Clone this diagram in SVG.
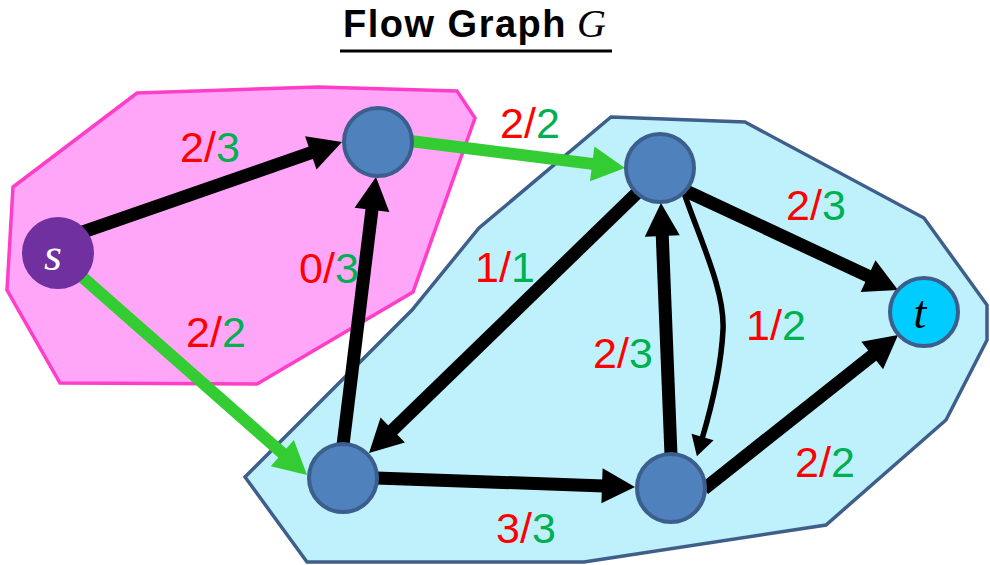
<svg xmlns="http://www.w3.org/2000/svg" width="990" height="565" viewBox="0 0 990 565">
<defs>
<style>
.edge{stroke:#000;stroke-width:13;fill:none}
.green{stroke:#33CC33;stroke-width:12;fill:none}
.thin{stroke:#000;stroke-width:5.5;fill:none}
.node{fill:#4F81BD;stroke:#3B5E8C;stroke-width:4}
.lbl{font-family:"Liberation Sans",Arial,sans-serif;font-size:43px;text-anchor:middle}
.r{fill:#FF0000}
.g{fill:#00B050}
</style>
<marker id="ah" markerUnits="userSpaceOnUse" markerWidth="40" markerHeight="40" viewBox="0 -20 36 40" refX="2" refY="0" orient="auto">
<path d="M0,-17.5 L33,0 L0,17.5 Z" fill="#000"/>
</marker>
<marker id="ahg" markerUnits="userSpaceOnUse" markerWidth="40" markerHeight="40" viewBox="0 -20 36 40" refX="2" refY="0" orient="auto">
<path d="M0,-17.5 L33,0 L0,17.5 Z" fill="#33CC33"/>
</marker>
<marker id="ahs" markerUnits="userSpaceOnUse" markerWidth="26" markerHeight="26" viewBox="0 -13 24 26" refX="2" refY="0" orient="auto">
<path d="M0,-11.5 L20,0 L0,11.5 Z" fill="#000"/>
</marker>
</defs>

<g id="title">
<text x="343" y="37" font-family="'Liberation Sans',Arial,sans-serif" font-weight="bold" font-size="38" letter-spacing="1.5" fill="#000">Flow Graph</text>
<text x="577" y="37" font-family="'Liberation Serif','Times New Roman',serif" font-style="italic" font-size="40" fill="#000">G</text>
<line x1="340" y1="51" x2="612" y2="51" stroke="#000" stroke-width="3"/>
</g>

<g id="regions">
<polygon id="regionS" points="137,93 318,87 457,91 475,118 413,292 257,384 60,383 7,290 13,187" fill="#FFA6F8" stroke="#FF3EC8" stroke-width="3.5"/>
<polygon id="regionT" points="611,117 745,122 924,218 987,305 987,340 946,420 826,525 584,562 307,562 245,477 412,310 479,228" fill="#BFF1FC" stroke="#3F5F8A" stroke-width="3.5"/>
</g>

<g id="connectors">
<line class="edge" x1="80" y1="233" x2="312.7" y2="152.2" marker-end="url(#ah)"/>
<line class="green" x1="80" y1="275" x2="283.8" y2="454.5" marker-end="url(#ahg)"/>
<line class="green" x1="410" y1="141" x2="594.2" y2="164.1" marker-end="url(#ahg)"/>
<line class="edge" x1="343" y1="445" x2="372.2" y2="207.8" marker-end="url(#ah)"/>
<line class="edge" x1="638" y1="192" x2="391.3" y2="431.4" marker-end="url(#ah)"/>
<line class="edge" x1="376" y1="478" x2="604" y2="485.9" marker-end="url(#ah)"/>
<line class="edge" x1="671" y1="455" x2="662.2" y2="234" marker-end="url(#ah)"/>
<line class="edge" x1="686" y1="191" x2="869.9" y2="276.9" marker-end="url(#ah)"/>
<line class="edge" x1="704" y1="489" x2="873.8" y2="354.3" marker-end="url(#ah)"/>
<path class="thin" d="M683,190 C700,240 725,290 723,330 C721,370 710,412 702,439" marker-end="url(#ahs)"/>
</g>

<g id="labels">
<text class="lbl" x="210" y="162"><tspan class="r">2/</tspan><tspan class="g">3</tspan></text>
<text class="lbl" x="329" y="283"><tspan class="r">0/</tspan><tspan class="g">3</tspan></text>
<text class="lbl" x="216" y="347"><tspan class="r">2/</tspan><tspan class="g">2</tspan></text>
<text class="lbl" x="530" y="138"><tspan class="r">2/</tspan><tspan class="g">2</tspan></text>
<text class="lbl" x="505" y="282"><tspan class="r">1/</tspan><tspan class="g">1</tspan></text>
<text class="lbl" x="816" y="220"><tspan class="r">2/</tspan><tspan class="g">3</tspan></text>
<text class="lbl" x="776" y="340"><tspan class="r">1/</tspan><tspan class="g">2</tspan></text>
<text class="lbl" x="623" y="368"><tspan class="r">2/</tspan><tspan class="g">3</tspan></text>
<text class="lbl" x="825" y="477"><tspan class="r">2/</tspan><tspan class="g">2</tspan></text>
<text class="lbl" x="526" y="543"><tspan class="r">3/</tspan><tspan class="g">3</tspan></text>
</g>

<g id="node-s">
<circle cx="58" cy="253" r="35" fill="#7030A0" stroke="#7030A0" stroke-width="2"/>
<text x="53" y="270" font-family="'Liberation Serif','Times New Roman',serif" font-style="italic" font-size="46" fill="#FFFFFF" text-anchor="middle">s</text>
</g>
<g id="node-a"><circle class="node" cx="378" cy="142" r="34"/></g>
<g id="node-b"><circle class="node" cx="660" cy="168" r="34"/></g>
<g id="node-c"><circle class="node" cx="343" cy="478" r="34"/></g>
<g id="node-d"><circle class="node" cx="671" cy="488" r="34"/></g>
<g id="node-t">
<circle cx="924" cy="312" r="34" fill="#00CCFF" stroke="#3B5E8C" stroke-width="4"/>
<text x="920" y="328" font-family="'Liberation Serif','Times New Roman',serif" font-style="italic" font-size="46" fill="#000" text-anchor="middle">t</text>
</g>
</svg>
